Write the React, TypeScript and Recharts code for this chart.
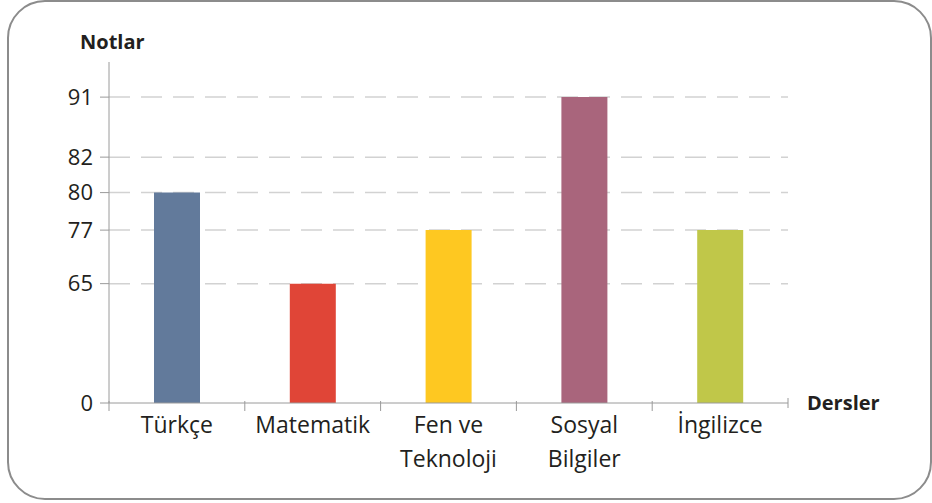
import { BarChart, Bar, XAxis, YAxis, CartesianGrid, Cell } from 'recharts'

const SUBJECTS = ['Türkçe', 'Matematik', 'Fen ve\nTeknoloji', 'Sosyal\nBilgiler', 'İngilizce']
const NOTES = [80, 65, 77, 91, 77]
const BAR_COLORS = ['#627a9b', '#e04537', '#fec821', '#a9657c', '#c0c749']
const Y_TICKS = [0, 65, 77, 80, 82, 91]

// the printed y axis is not linear: each tick sits where the book put it
const KNOTS = [0, 65, 77, 80, 82, 91, 100]
const KNOT_POS = [0, 0.35, 0.507, 0.617, 0.721, 0.897, 1]

function notScale(): any {
  let dom: number[] = [0, 100]
  let rng: number[] = [0, 1]
  const s: any = (v: number) => {
    let i = 1
    while (i < KNOTS.length - 1 && v > KNOTS[i]) i++
    const t = (v - KNOTS[i - 1]) / (KNOTS[i] - KNOTS[i - 1])
    const f = KNOT_POS[i - 1] + t * (KNOT_POS[i] - KNOT_POS[i - 1])
    return rng[0] + f * (rng[1] - rng[0])
  }
  s.domain = (d?: number[]) => {
    if (d === undefined) return dom
    dom = d
    return s
  }
  s.range = (r?: number[]) => {
    if (r === undefined) return rng
    rng = r
    return s
  }
  s.copy = () => notScale().domain(dom).range(rng)
  s.ticks = () => Y_TICKS
  s.tickFormat = () => (v: number) => String(v)
  return s
}

const data = SUBJECTS.map((name, i) => ({ name, note: NOTES[i] }))

// label under the bar + small tick marks on the band edges
function SubjectTick({ x, y, payload, index }: any) {
  const lines = String(payload.value).split('\n')
  const half = payload.offset || 67.9
  const last = index === SUBJECTS.length - 1
  return (
    <g>
      <line x1={x - half} x2={x - half} y1={y - 2} y2={y + 8} stroke="#9a9a9a" />
      {last && <line x1={x + half} x2={x + half} y1={y - 5} y2={y + 5} stroke="#9a9a9a" />}
      <text x={x} y={y} textAnchor="middle" fill="#231f20" fontSize={23}>
        {lines.map((l, i) => (
          <tspan key={i} x={x} dy={i === 0 ? 30 : 34}>
            {l}
          </tspan>
        ))}
      </text>
    </g>
  )
}

export default function App() {
  return (
    <div
      style={{
        position: 'absolute',
        left: 0,
        top: 0,
        width: 932,
        height: 503,
        background: '#fff',
        fontFamily: '"Open Sans", sans-serif',
      }}
    >
      <div
        style={{
          position: 'absolute',
          left: 7,
          top: 0,
          width: 921,
          height: 496,
          border: '2px solid #8c8c8c',
          borderRadius: 38,
        }}
      />
      <BarChart
        width={932}
        height={503}
        data={data}
        margin={{ top: 62, right: 144, bottom: 40, left: 49 }}
      >
        <CartesianGrid
          vertical={false}
          horizontalValues={Y_TICKS.slice(1)}
          stroke="#d2d2d2"
          strokeWidth={1.5}
          strokeDasharray="21 11"
        />
        <XAxis
          dataKey="name"
          height={60}
          interval={0}
          tickLine={false}
          tickSize={0}
          tickMargin={0}
          stroke="#9a9a9a"
          tick={<SubjectTick />}
        />
        <YAxis
          width={60}
          scale={notScale()}
          domain={[0, 100]}
          ticks={Y_TICKS}
          interval={0}
          tickSize={9}
          tickMargin={7}
          stroke="#9a9a9a"
          tick={{ fill: '#231f20', fontSize: 22 }}
        />
        <Bar dataKey="note" barSize={46} isAnimationActive={false}>
          {data.map((d, i) => (
            <Cell key={d.name} fill={BAR_COLORS[i]} />
          ))}
        </Bar>
      </BarChart>
      <div
        style={{
          position: 'absolute',
          left: 80,
          top: 28,
          fontSize: 20,
          fontWeight: 700,
          color: '#231f20',
        }}
      >
        Notlar
      </div>
      <div
        style={{
          position: 'absolute',
          left: 807,
          top: 389,
          fontSize: 20,
          fontWeight: 700,
          color: '#231f20',
        }}
      >
        Dersler
      </div>
    </div>
  )
}
